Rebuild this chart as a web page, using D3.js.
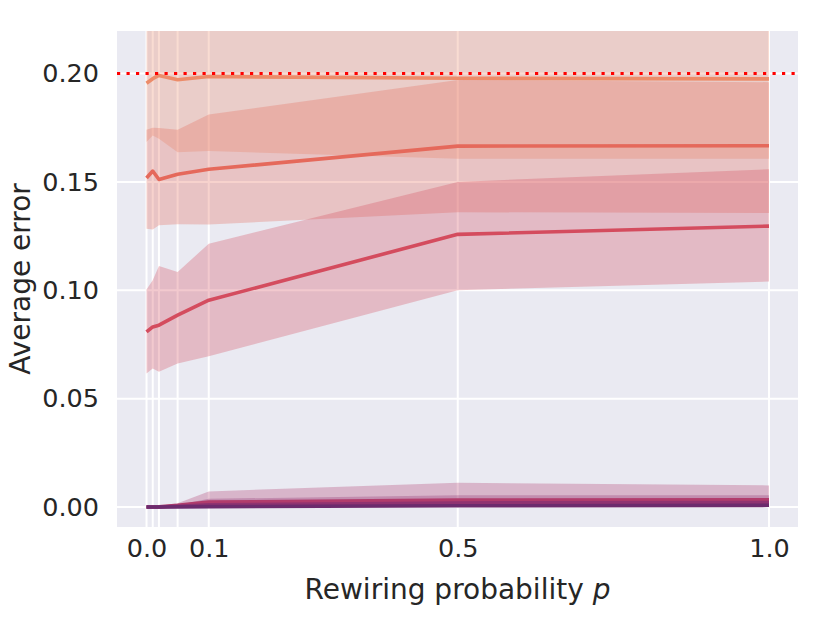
<!DOCTYPE html>
<html>
<head>
<meta charset="utf-8">
<script src="https://cdn.jsdelivr.net/npm/d3@7"></script>
<style>
    html, body { margin: 0; padding: 0; background: #fff; }
    text { font-family: 'DejaVu Sans', sans-serif; fill: #262626; }
</style>
</head>
<body>
<div id="chart"></div>
<script>
    (function () {
        'use strict'

        // rewiring probabilities (x values)
        var probs = [0, 0.01, 0.02, 0.05, 0.1, 0.5, 1.0]
        var xTickValues = [0, 0.1, 0.5, 1.0]
        var yTickValues = [0, 0.05, 0.1, 0.15, 0.2]
        var threshold = 0.2

        // one entry per hue level, top to bottom
        var seriesNames = ['s1', 's2', 's3', 's4', 's5', 's6']
        var colors = ['#ec8c6a', '#e5695b', '#d44c5e', '#b13c6c', '#8f3371', '#6c2b6d']

        var means = [
            [0.1955, 0.1976, 0.1991, 0.1971, 0.1986, 0.1978, 0.1975],
            [0.1518, 0.1550, 0.1511, 0.1535, 0.1558, 0.1665, 0.1667],
            [0.0808, 0.0831, 0.0839, 0.0885, 0.0954, 0.1258, 0.1296],
            [0.0000, 0.0000, 0.0001, 0.0008, 0.0023, 0.0032, 0.0033],
            [0.0000, 0.0000, 0.0000, 0.0004, 0.0010, 0.0019, 0.0021],
            [0.0000, 0.0000, 0.0000, 0.0001, 0.0002, 0.0006, 0.0008]
        ]
        var lowers = [
            [0.1684, 0.1714, 0.1699, 0.1637, 0.1642, 0.1607, 0.1607],
            [0.1284, 0.1280, 0.1300, 0.1304, 0.1303, 0.1360, 0.1356],
            [0.0616, 0.0639, 0.0624, 0.0662, 0.0696, 0.1000, 0.1040],
            [0.0000, 0.0000, 0.0000, 0.0000, 0.0000, 0.0000, 0.0000],
            [0.0000, 0.0000, 0.0000, 0.0000, 0.0000, 0.0000, 0.0000],
            [0.0000, 0.0000, 0.0000, 0.0000, 0.0000, 0.0000, 0.0000]
        ]
        var uppers = [
            [0.2300, 0.2300, 0.2300, 0.2300, 0.2300, 0.2300, 0.2300],
            [0.1740, 0.1750, 0.1749, 0.1740, 0.1811, 0.1970, 0.1960],
            [0.1003, 0.1046, 0.1112, 0.1084, 0.1215, 0.1500, 0.1558],
            [0.0000, 0.0000, 0.0002, 0.0018, 0.0072, 0.0112, 0.0100],
            [0.0000, 0.0000, 0.0001, 0.0010, 0.0038, 0.0055, 0.0055],
            [0.0000, 0.0000, 0.0000, 0.0003, 0.0008, 0.0014, 0.0015]
        ]

        var width = 830,
            height = 623,
            margin = {
                top: 31,
                right: 32,
                bottom: 96,
                left: 117
            },
            plotW = width - margin.left - margin.right,
            plotH = height - margin.top - margin.bottom

        var x = d3.scaleLinear().domain([-0.0474, 1.0466]).range([0, plotW])
        var y = d3.scaleLinear().domain([-0.0092, 0.2196]).range([plotH, 0])

        var svg = d3.select('#chart')
            .append('svg')
            .attr('width', width)
            .attr('height', height)

        svg.append('defs').append('clipPath')
            .attr('id', 'plotClip')
            .append('rect')
            .attr('width', plotW)
            .attr('height', plotH)

        var g = svg.append('g')
            .attr('transform', 'translate(' + margin.left + ',' + margin.top + ')')

        g.append('rect')
            .attr('width', plotW)
            .attr('height', plotH)
            .attr('fill', '#eaeaf2')

        //grid
        g.selectAll('.ygrid')
            .data(yTickValues).enter()
            .append('line')
            .attr('x1', 0).attr('x2', plotW)
            .attr('y1', function (d) { return y(d) })
            .attr('y2', function (d) { return y(d) })
            .attr('stroke', '#fff')
            .attr('stroke-width', 2)

        g.selectAll('.xgrid')
            .data(probs).enter()
            .append('line')
            .attr('y1', 0).attr('y2', plotH)
            .attr('x1', function (d) { return x(d) })
            .attr('x2', function (d) { return x(d) })
            .attr('stroke', '#fff')
            .attr('stroke-width', 2)

        var rows = seriesNames.map(function (name, i) {
            return probs.map(function (p, j) {
                return { p: p, mean: means[i][j], lo: lowers[i][j], hi: uppers[i][j] }
            })
        })

        var plot = g.append('g').attr('clip-path', 'url(#plotClip)')

        var area = d3.area()
            .x(function (d) { return x(d.p) })
            .y0(function (d) { return y(d.lo) })
            .y1(function (d) { return y(d.hi) })

        var line = d3.line()
            .x(function (d) { return x(d.p) })
            .y(function (d) { return y(d.mean) })

        plot.selectAll('.band')
            .data(rows).enter()
            .append('path')
            .attr('d', area)
            .attr('fill', function (d, i) { return colors[i] })
            .attr('fill-opacity', 0.3)

        plot.selectAll('.mean')
            .data(rows).enter()
            .append('path')
            .attr('d', line)
            .attr('fill', 'none')
            .attr('stroke', function (d, i) { return colors[i] })
            .attr('stroke-width', 3.6)
            .attr('stroke-linejoin', 'round')

        // threshold line
        plot.append('line')
            .attr('x1', 0).attr('x2', plotW)
            .attr('y1', y(threshold)).attr('y2', y(threshold))
            .attr('stroke', '#ff0000')
            .attr('stroke-width', 3.2)
            .attr('stroke-dasharray', '3.2 6.3')

        //axes
        var xAxis = g.append('g')
            .attr('transform', 'translate(0,' + plotH + ')')
            .call(d3.axisBottom(x).tickValues(xTickValues).tickFormat(d3.format('.1f')).tickSize(0).tickPadding(12))
        xAxis.select('.domain').remove()
        xAxis.selectAll('text')
            .attr('font-size', '25.5px')
            .attr('font-family', 'DejaVu Sans')
            .attr('fill', '#262626')

        var yAxis = g.append('g')
            .call(d3.axisLeft(y).tickValues(yTickValues).tickFormat(d3.format('.2f')).tickSize(0).tickPadding(18))
        yAxis.select('.domain').remove()
        yAxis.selectAll('text')
            .attr('font-size', '25.5px')
            .attr('font-family', 'DejaVu Sans')
            .attr('fill', '#262626')

        var xLabel = svg.append('text')
            .attr('x', margin.left + plotW / 2)
            .attr('y', 599)
            .attr('text-anchor', 'middle')
            .style('font-size', '28px')
        xLabel.append('tspan').text('Rewiring probability ')
        xLabel.append('tspan').style('font-style', 'italic').text('p')

        svg.append('text')
            .attr('transform', 'translate(30,' + (margin.top + plotH / 2) + ') rotate(-90)')
            .attr('text-anchor', 'middle')
            .style('font-size', '28px')
            .text('Average error')
    })()
</script>
</body>
</html>
